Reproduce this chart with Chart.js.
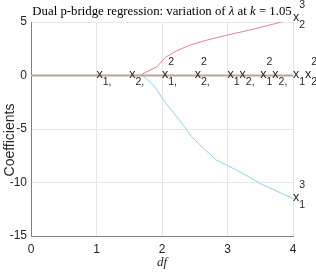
<!DOCTYPE html>
<html>
<head>
<meta charset="utf-8">
<script src="https://cdn.jsdelivr.net/npm/chart.js@4"></script>
<style>
  html, body { margin:0; padding:0; background:#fff; }
  #wrap { width:316px; height:273px; }
</style>
</head>
<body>
<div id="wrap"><canvas id="chart" width="316" height="273"></canvas></div>
<script>
// ===== DATA =====
const dfZero = [0, 4];
const coefZero = [0, 0];

const dfRed = [0, 1.66, 1.77, 1.92, 2.05, 2.22, 2.43, 2.68, 3.01, 3.34, 3.70, 4.0];
const coefRed = [0, 0, 0.36, 0.8, 1.7, 2.3, 2.85, 3.3, 3.8, 4.25, 4.8, 5.3];

const dfBlue = [0, 1.70, 1.76, 1.84, 1.93, 2.02, 2.15, 2.27, 2.45, 2.65, 2.83, 3.19, 3.5, 4.0];
const coefBlue = [0, 0, -0.3, -0.7, -1.4, -2.3, -3.3, -4.2, -5.7, -6.9, -7.9, -9.0, -10.1, -11.5];

const xTicks = [0, 1, 2, 3, 4];
const yTicks = [-15, -10, -5, 0, 5];

// term labels drawn at (df, coef)
const labelDf = [1, 1.5, 2, 2.5, 3, 3.5, 4, 4, 4];
const labelCoef = [0, 0, 0, 0, 0, 0, 0, 5.3, -11.5];
const labelText = ["x_{1,}", "x_{2,}", "x_{1,}^{2}", "x_{2,}^{2}", "x_{1}x_{2,}",
                   "x_{1}^{2}x_{2,}", "x_{1}x_{2}^{2}", "x_{2}^{3}", "x_{1}^{3}"];

const titleParts = [["Dual p-bridge regression: variation of ", false], ["\u03bb", true],
                    [" at ", false], ["k", true], [" = 1.05", false]];
const yTitle = "Coefficients";

const pts = (xs, ys) => xs.map((x, i) => ({x, y: ys[i]}));

// ===== PLUGINS =====
function parseLabel(s){
    // returns list of {base, sub, sup}
    let out = [], i = 0;
    const grab = () => {
        if (s[i] === "{") { let j = s.indexOf("}", i); let t = s.slice(i+1, j); i = j+1; return t; }
        return s[i++];
    };
    while (i < s.length) {
        let g = {base: s[i++], sub: "", sup: ""};
        while (s[i] === "_" || s[i] === "^") {
            let k = s[i++];
            if (k === "_") g.sub = grab(); else g.sup = grab();
        }
        out.push(g);
    }
    return out;
}

const termLabels = {
    id: "termLabels",
    afterDatasetsDraw(chart){
        const ctx = chart.ctx, xs = chart.scales.x, ys = chart.scales.y;
        ctx.save();
        ctx.fillStyle = "#262626";
        ctx.textBaseline = "alphabetic";
        ctx.textAlign = "left";
        labelText.forEach((t, n) => {
            let px = xs.getPixelForValue(labelDf[n]);
            let py = ys.getPixelForValue(labelCoef[n]);
            parseLabel(t).forEach(g => {
                ctx.font = "12.5px 'Liberation Sans', Arial, sans-serif";
                ctx.fillText(g.base, px, py + 2.5);
                px += ctx.measureText(g.base).width;
                ctx.font = "10.5px 'Liberation Sans', Arial, sans-serif";
                let w = 0;
                if (g.sub) { ctx.fillText(g.sub, px, py + 9.5); w = Math.max(w, ctx.measureText(g.sub).width); }
                if (g.sup) { ctx.fillText(g.sup, px, py - 10.5); w = Math.max(w, ctx.measureText(g.sup).width); }
                px += w;
            });
        });
        ctx.restore();
    }
};

const textBits = {
    id: "textBits",
    afterDraw(chart){
        const ctx = chart.ctx, area = chart.chartArea;
        ctx.save();
        ctx.fillStyle = "#000";
        ctx.textBaseline = "alphabetic";
        ctx.textAlign = "left";
        const fnt = it => (it ? "italic " : "") + "12.8px 'Liberation Serif', 'Times New Roman', serif";
        let total = 0;
        titleParts.forEach(p => { ctx.font = fnt(p[1]); total += ctx.measureText(p[0]).width; });
        let x = (area.left + area.right) / 2 - total / 2;
        titleParts.forEach(p => {
            ctx.font = fnt(p[1]);
            ctx.fillText(p[0], x, 15);
            x += ctx.measureText(p[0]).width;
        });
        // y axis title
        ctx.fillStyle = "#262626";
        ctx.font = "14px 'Liberation Sans', Arial, sans-serif";
        ctx.textAlign = "center";
        ctx.textBaseline = "middle";
        ctx.translate(10, 140);
        ctx.rotate(-Math.PI / 2);
        ctx.fillText(yTitle, 0, 0);
        ctx.restore();
    }
};

// ===== CHART =====
const ctx = document.getElementById("chart").getContext("2d");
const chart = new Chart(ctx, {
    type: "line",
    data: {
        datasets: [
            {data: pts(dfZero, coefZero), borderColor: "rgb(186,164,150)", borderWidth: 2, order: 1},
            {data: pts(dfRed, coefRed), borderColor: "rgb(226,130,146)", borderWidth: 1, order: 2},
            {data: pts(dfBlue, coefBlue), borderColor: "rgb(138,212,242)", borderWidth: 1, order: 3}
        ]
    },
    options: {
        responsive: false,
        animation: false,
        events: [],
        layout: {padding: {top: 22, right: 23, left: 0, bottom: 0}},
        elements: {point: {radius: 0}, line: {tension: 0}},
        plugins: {legend: {display: false}, tooltip: {enabled: false}, title: {display: false}},
        scales: {
            x: {
                type: "linear", min: 0, max: 4,
                afterBuildTicks: s => { s.ticks = xTicks.map(v => ({value: v})); },
                afterFit: s => { s.height = 37; },
                grid: {color: "rgb(230,230,230)", drawTicks: false},
                border: {color: "#808080", width: 1},
                ticks: {padding: 6, color: "#262626", font: {family: "'Liberation Sans', Arial, sans-serif", size: 12}},
                title: {display: true, text: "df", color: "#262626", padding: {top: 0, bottom: 3},
                        font: {family: "'Liberation Serif', serif", size: 13, style: "italic"}}
            },
            y: {
                type: "linear", min: -15, max: 5,
                afterBuildTicks: s => { s.ticks = yTicks.map(v => ({value: v})); },
                afterFit: s => { s.width = 31; },
                grid: {color: "rgb(230,230,230)", drawTicks: false},
                border: {color: "#808080", width: 1},
                ticks: {padding: 4, color: "#262626", font: {family: "'Liberation Sans', Arial, sans-serif", size: 12}}
            }
        }
    },
    plugins: [termLabels, textBits]
});
</script>
</body>
</html>
